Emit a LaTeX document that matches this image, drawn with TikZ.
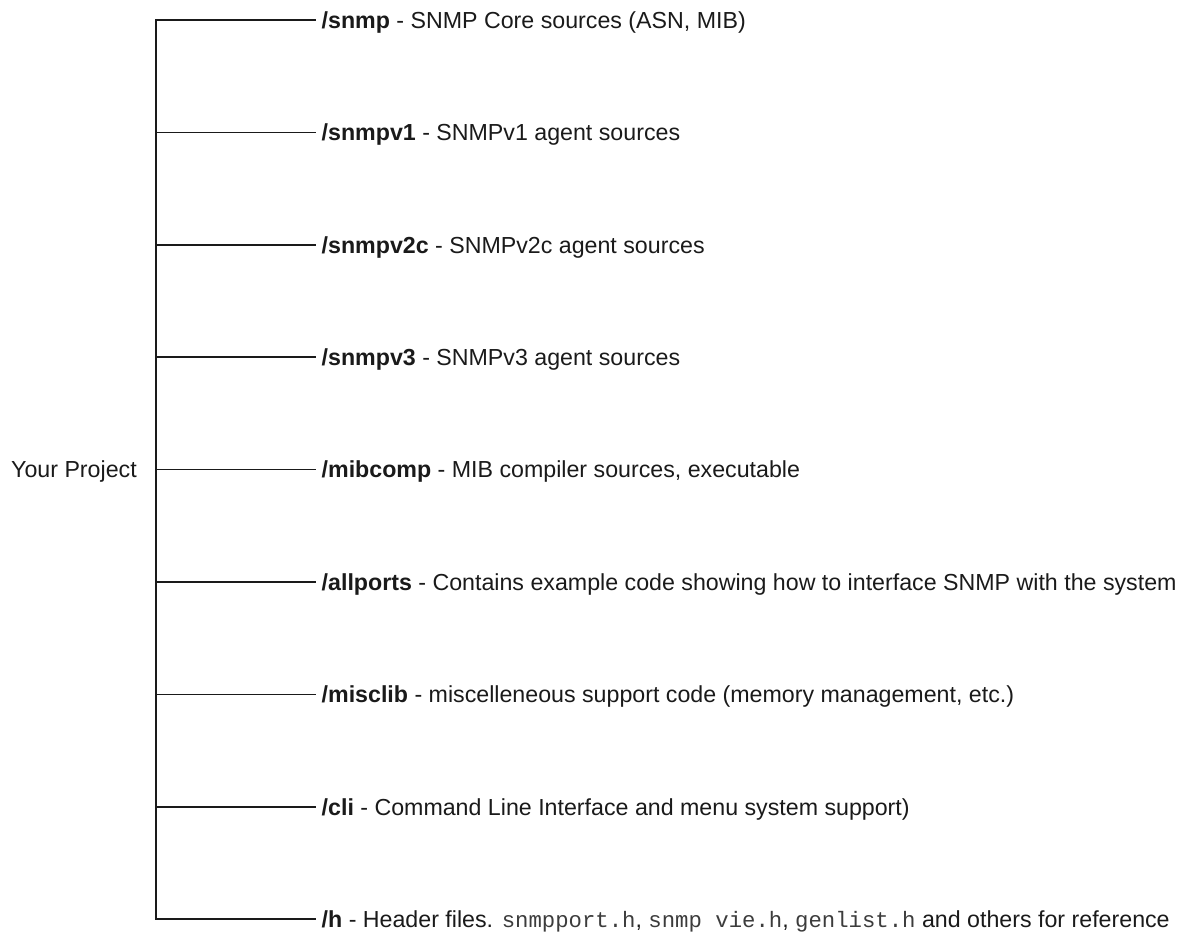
\documentclass[tikz,border=0pt]{standalone}
\usepackage{fontspec}
\setmainfont{Liberation Sans}
\setmonofont{Liberation Mono}
\definecolor{ink}{HTML}{1A1A1A}
\newcommand{\mono}[1]{{\fontsize{22.3}{26}\ttfamily\color{ink!85} #1}}
\begin{document}
\begin{tikzpicture}[x=1pt,y=-1pt,
  lbl/.style={anchor=base west,inner sep=0pt,text=ink,font=\fontsize{23.2}{28}\selectfont},
  wire/.style={draw=ink,line width=1.5pt,line cap=rect}]
\useasboundingbox (0,0) rectangle (1181,932);
\node[lbl] (root) at (11,477.8) {Your Project};
\coordinate (top) at (156,20);
\coordinate (bot) at (156,919.2);
\draw[wire] (top) -- (bot);
\foreach \i/\name/\txt in {
 0/snmp/{\textbf{/snmp} - SNMP Core sources (ASN, MIB)},
 1/snmpvone/{\textbf{/snmpv1} - SNMPv1 agent sources},
 2/snmpvtwoc/{\textbf{/snmpv2c} - SNMPv2c agent sources},
 3/snmpvthree/{\textbf{/snmpv3} - SNMPv3 agent sources},
 4/mibcomp/{\textbf{/mibcomp} - MIB compiler sources, executable},
 5/allports/{\textbf{/allports} - Contains example code showing how to interface SNMP with the system},
 6/misclib/{\textbf{/misclib} - miscelleneous support code (memory management, etc.)},
 7/cli/{\textbf{/cli} - Command Line Interface and menu system support)},
 8/h/{\textbf{/h} - Header files. \mono{snmpport.h}, \mono{snmp vie.h}, \mono{genlist.h} and others for reference}}
{
  \pgfmathsetmacro{\yy}{20+\i*112.4}
  \coordinate (j\name) at (156,\yy);
  \node[lbl] (\name) at (321.5,\yy+8.3) {\txt};
  \coordinate (e\name) at (315,\yy);
  \draw[wire] (j\name) -- (e\name);
}
\end{tikzpicture}
\end{document}
